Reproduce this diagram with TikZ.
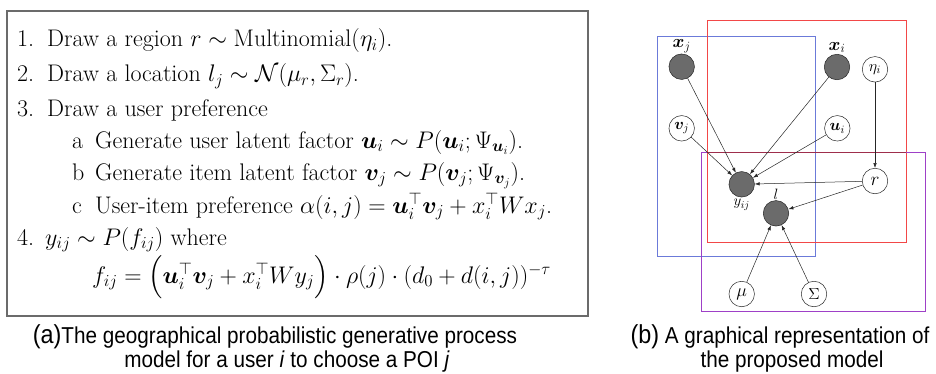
\RequirePackage{fix-cm}
\documentclass[tikz,border=0pt]{standalone}
\usepackage{amsmath,amssymb,bm}
\usepackage[no-math]{fontspec}
\newfontfamily\capfont[FakeStretch=0.9]{Liberation Sans}
\usetikzlibrary{arrows.meta}
\definecolor{boxgray}{rgb}{0.42,0.42,0.42}
\definecolor{nodefill}{rgb}{0.42,0.42,0.42}
\definecolor{plateblue}{rgb}{0.42,0.48,0.85}
\definecolor{platered}{rgb}{0.95,0.28,0.28}
\definecolor{platepurple}{rgb}{0.62,0.25,0.78}
\definecolor{platedark}{rgb}{0.62,0.18,0.3}
\tikzset{
  txt/.style={anchor=base west, inner sep=0pt, font=\fontsize{24}{28}\selectfont},
  captext/.style={anchor=base, inner sep=0pt, font=\capfont\fontsize{23}{26}\selectfont},
  obs/.style={circle, draw=black!85, line width=0.5pt, fill=nodefill, minimum size=25.5pt, inner sep=0pt},
  lat/.style={circle, draw=black!85, line width=0.5pt, fill=white, minimum size=25.5pt, inner sep=0pt, font=\fontsize{16}{18}\selectfont},
  lab/.style={inner sep=0pt, font=\fontsize{18}{20}\selectfont},
  edge/.style={-{Latex[length=5pt,width=3.5pt]}, line width=0.5pt, draw=black!85},
  plate/.style={line width=1pt}
}
\begin{document}
\begin{tikzpicture}[x=1pt,y=-1pt]
\useasboundingbox (0,0) rectangle (936,373);
% left box
\draw[draw=boxgray, line width=1.5pt] (7,11) rectangle (588,316);
\node[txt] (n1) at (17,46.7) {1.};
\node[txt] (t1) at (47,46.7) {Draw a region $r\sim\mathrm{Multinomial}(\eta_i)$.};
\node[txt] (n2) at (17,81.7) {2.};
\node[txt] (t2) at (47,81.7) {Draw a location $l_j\sim\mathcal{N}(\mu_r,\Sigma_r)$.};
\node[txt] (n3) at (17,116.7) {3.};
\node[txt] (t3) at (47,116.7) {Draw a user preference};
\node[txt] (na) at (72,148.3) {a};
\node[txt] (ta) at (95,148.3) {Generate user latent factor $\bm{u}_i\sim P(\bm{u}_i;\Psi_{\bm{u}_i})$.};
\node[txt] (nb) at (72,180) {b};
\node[txt] (tb) at (95,180) {Generate item latent factor $\bm{v}_j\sim P(\bm{v}_j;\Psi_{\bm{v}_j})$.};
\node[txt] (nc) at (72,213.3) {c};
\node[txt] (tc) at (95,213.3) {User-item preference $\alpha(i,j)=\bm{u}_i^{\top}\bm{v}_j+x_i^{\top}Wx_j$.};
\node[txt] (n4) at (17,245) {4.};
\node[txt] (t4) at (45,245) {$y_{ij}\sim P(f_{ij})$ where};
\node[txt] (tf) at (92,283) {$f_{ij}=\smash{\Big(}\bm{u}_i^{\top}\bm{v}_j+x_i^{\top}Wy_j\smash{\Big)}\cdot\rho(j)\cdot(d_0+d(i,j))^{-\tau}$};
% captions
\node[captext] (ca1) at (275,343) {{\fontsize{26}{26}\selectfont(a)}The geographical probabilistic generative process};
\node[captext] (ca2) at (287,367) {model for a user \textit{i} to choose a POI \textit{j}};
\node[captext] (cb1) at (780,343) {{\fontsize{26}{26}\selectfont(b)} A graphical representation of};
\node[captext] (cb2) at (792,367) {the proposed model};
% plates
\draw[plate, draw=plateblue] (657,36) rectangle (815,256);
\draw[plate, draw=platered] (707,20) rectangle (906,242);
\draw[plate, draw=platepurple] (701,152) rectangle (925,311);
\draw[plate, draw=platedark] (707,152) -- (906,152);
% nodes
\node[obs, label={[lab, label distance=1pt]above:$\bm{x}_j$}] (xj) at (681.7,66.7) {};
\node[obs, label={[lab, label distance=1pt]above:$\bm{x}_i$}] (xi) at (837,67) {};
\node[lat] (eta) at (875,69.3) {$\eta_i$};
\node[lat] (vj) at (681.7,128.3) {$\bm{v}_j$};
\node[lat] (ui) at (837.3,128.3) {$\bm{u}_i$};
\node[obs, label={[lab, label distance=2pt, font=\fontsize{15}{16}\selectfont]below:$y_{ij}$}] (yij) at (741.7,184.3) {};
\node[lat, font=\fontsize{19}{20}\selectfont] (r) at (875,181) {$r$};
\node[obs, label={[lab, label distance=1pt, font=\fontsize{15}{16}\selectfont]above:$l$}] (l) at (776,213.3) {};
\node[lat, font=\fontsize{18}{20}\selectfont] (mu) at (741.7,294) {$\mu$};
\node[lat] (sig) at (814,294) {$\Sigma$};
% edges
\draw[edge] (xj) -- (yij);
\draw[edge] (vj) -- (yij);
\draw[edge] (xi) -- (yij);
\draw[edge] (ui) -- (yij);
\draw[edge] (r) -- (yij);
\draw[edge] (eta) -- (r);
\draw[edge] (r) -- (l);
\draw[edge] (mu) -- (l);
\draw[edge] (sig) -- (l);
\end{tikzpicture}
\end{document}
